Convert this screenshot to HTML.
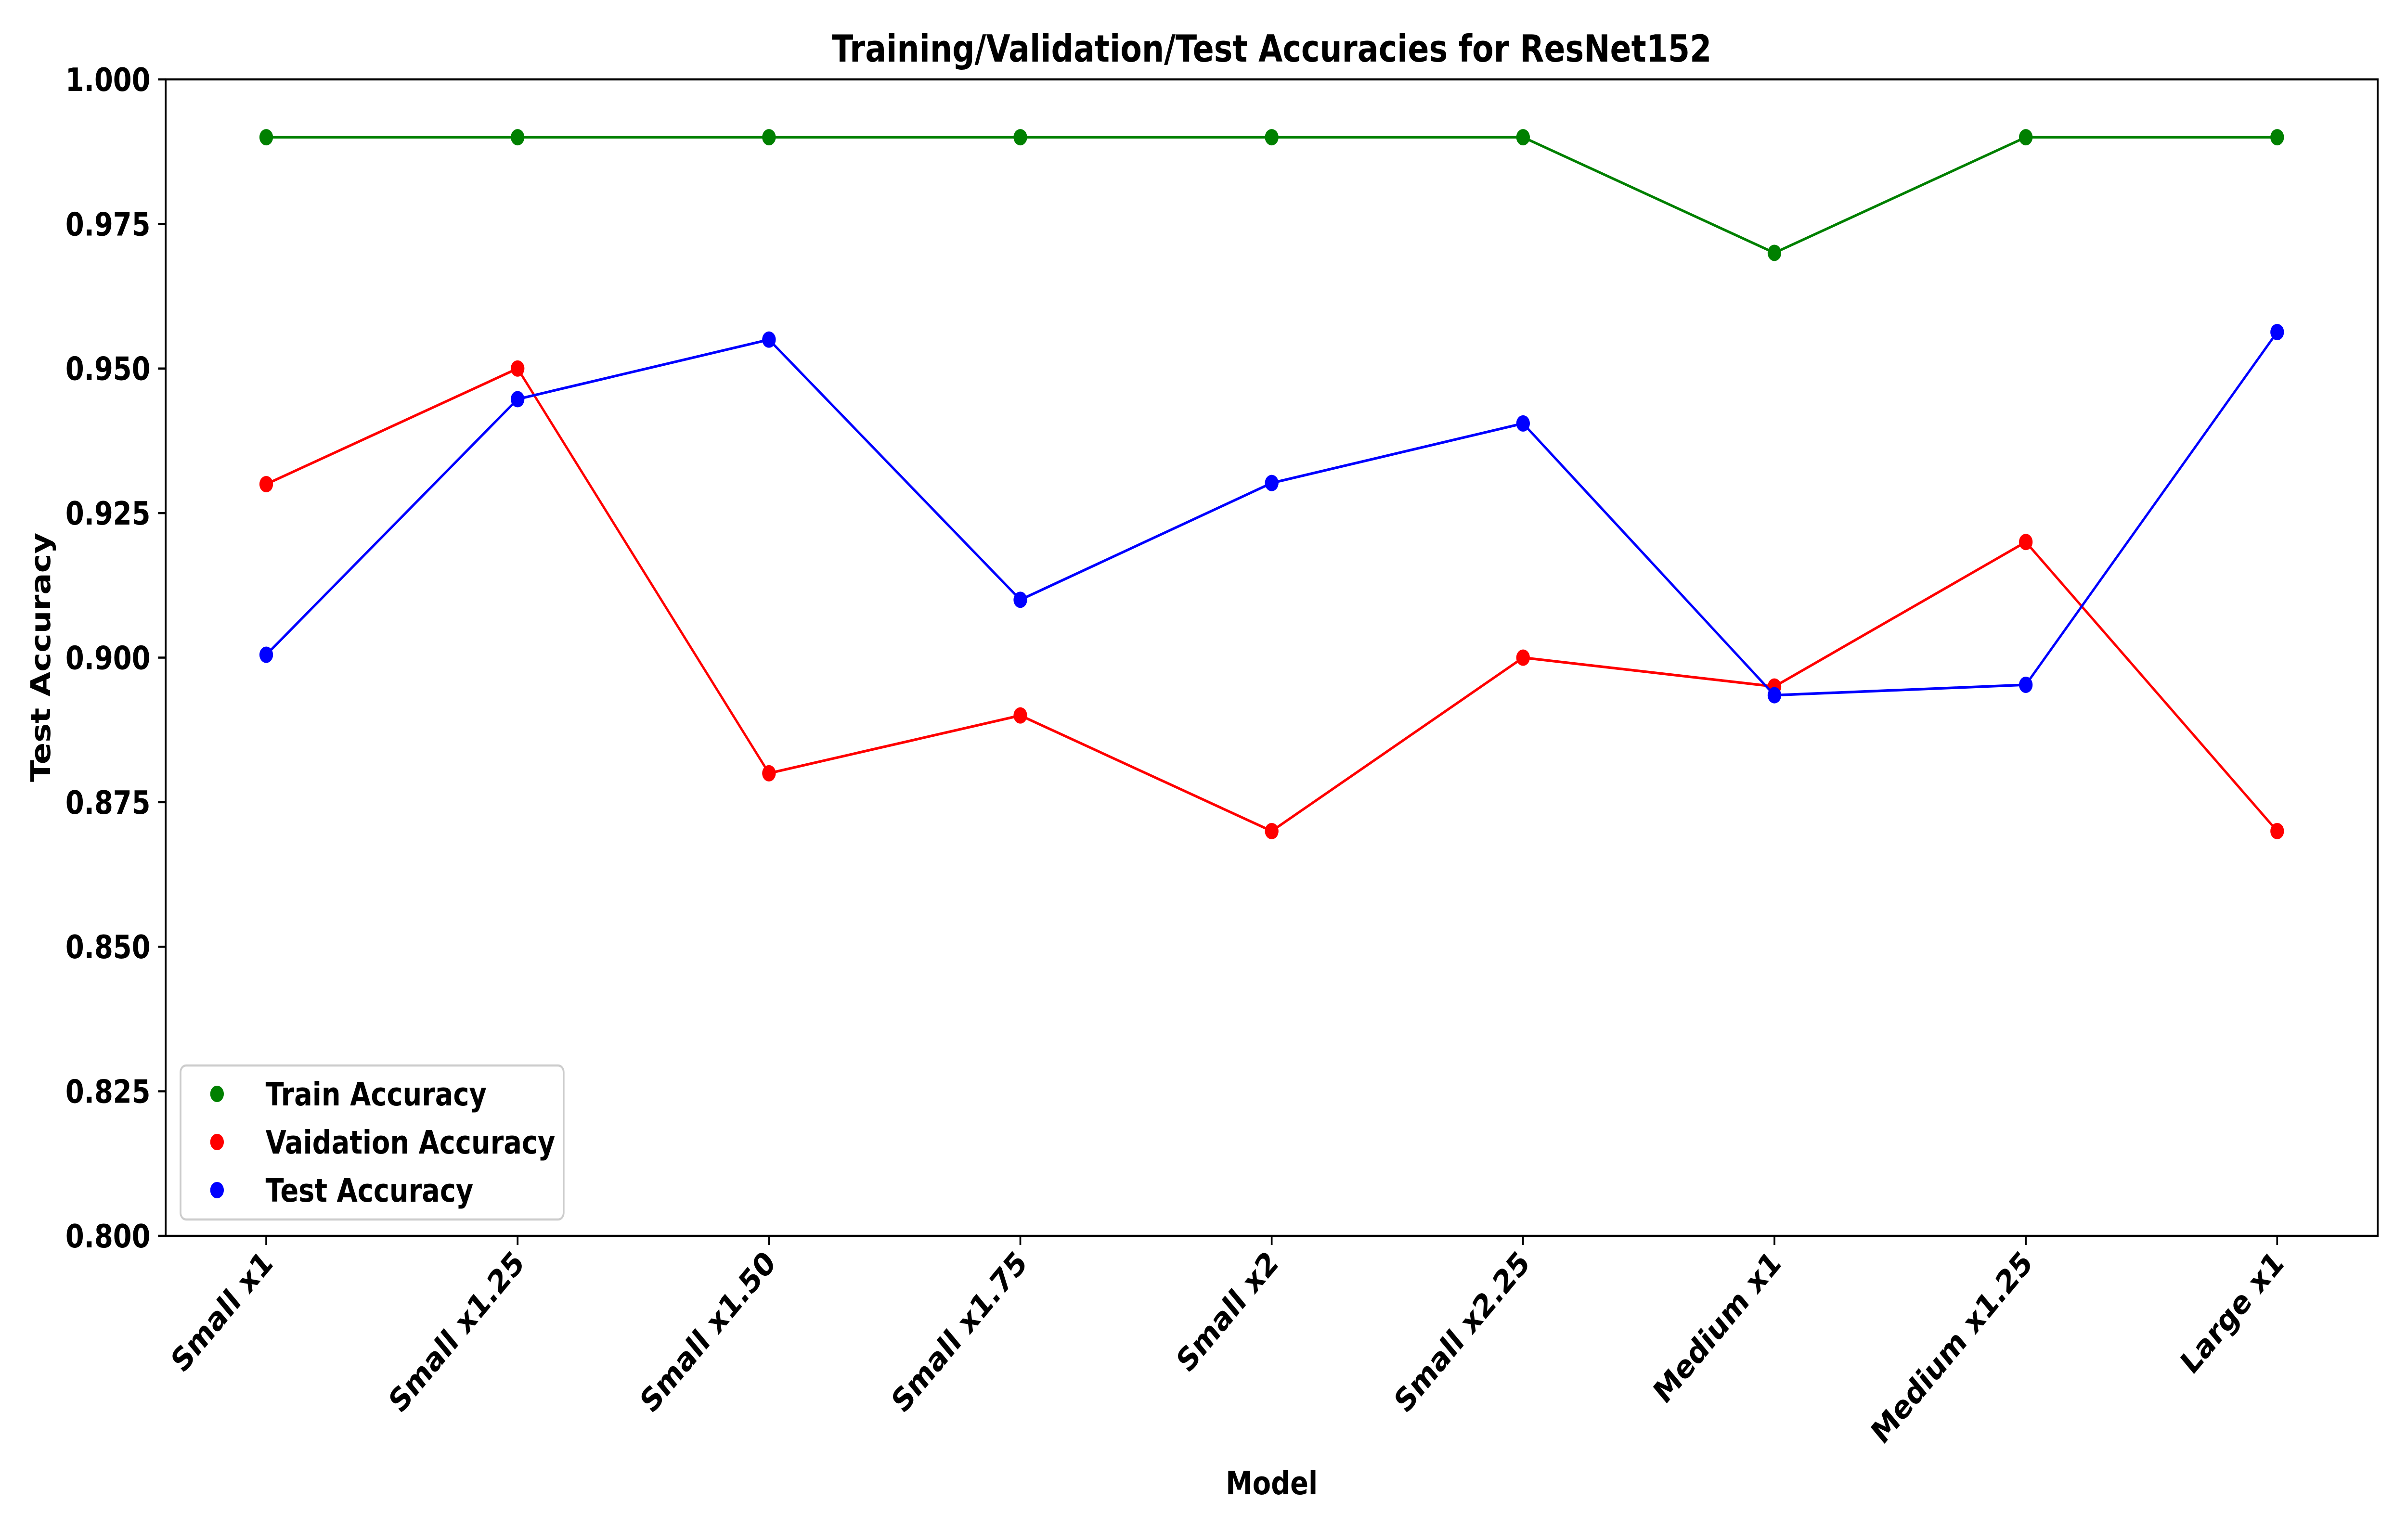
<!DOCTYPE html>
<html><head><meta charset="utf-8"><style>
html,body{margin:0;padding:0;background:#fff;width:100%;height:100%;overflow:hidden}
svg{display:block;width:100vw;height:100vh;font-family:"DejaVu Sans","Liberation Sans",sans-serif;font-weight:bold}
</style></head><body>
<svg id="chart" viewBox="0 0 6000 3200" preserveAspectRatio="none" xmlns="http://www.w3.org/2000/svg">
<rect width="6000" height="3200" fill="#fff"/>
<text x="3170" y="128" font-size="78" text-anchor="middle">Training/Validation/Test Accuracies for ResNet152</text>
<g id="grid"></g>
<g id="series"></g>
<rect x="413" y="165" width="5514" height="2403" fill="none" stroke="#000" stroke-width="4.4"/>
<text transform="translate(125,1366) rotate(-90)" font-size="67" text-anchor="middle">Test Accuracy</text>
<text x="3170" y="3105" font-size="67" text-anchor="middle">Model</text>
<g>
<rect x="450" y="2214" width="955" height="320" rx="14" fill="#fff" fill-opacity="0.8" stroke="#ccc" stroke-width="4.4"/>
<circle cx="541" cy="2273" r="17" fill="#008000"/>
<text x="662" y="2297" font-size="67">Train Accuracy</text>
<circle cx="541" cy="2373" r="17" fill="#ff0000"/>
<text x="662" y="2397" font-size="67">Vaidation Accuracy</text>
<circle cx="541" cy="2473" r="17" fill="#0000ff"/>
<text x="662" y="2497" font-size="67">Test Accuracy</text>
</g>
</svg>
<script>
const categories = ["Small x1","Small x1.25","Small x1.50","Small x1.75","Small x2","Small x2.25","Medium x1","Medium x1.25","Large x1"];
const trainAcc = [0.99,0.99,0.99,0.99,0.99,0.99,0.97,0.99,0.99];
const valAcc = [0.93,0.95,0.88,0.89,0.87,0.90,0.895,0.92,0.87];
const testAcc = [0.9005,0.9447,0.955,0.910,0.9302,0.9405,0.8935,0.8953,0.9563];
const yTicks = [0.800,0.825,0.850,0.875,0.900,0.925,0.950,0.975,1.000];
const yMin = 0.8, yMax = 1.0;

const NS = "http://www.w3.org/2000/svg";
const L = 413, R = 5927, T = 165, B = 2568;
const n = categories.length;
const step = (R - L) / ((n - 1) * 1.1);
function xs(i){ return L + step * (0.05 * (n - 1)) + step * i; }
function ys(v){ return B - (v - yMin) / (yMax - yMin) * (B - T); }
function mk(tag, attrs, parent){ const e = document.createElementNS(NS, tag); for (const k in attrs) e.setAttribute(k, attrs[k]); parent.appendChild(e); return e; }

const grid = document.getElementById('grid');
yTicks.forEach(v => {
  const y = ys(v);
  const t = mk('line', {x1: L - 19, x2: L, y1: y, y2: y, stroke: '#000', 'stroke-width': 4.4}, grid);
  
  
  const lb = mk('text', {x: L - 38, y: y + 24, 'font-size': 67, 'text-anchor': 'end'}, grid);
  lb.textContent = v.toFixed(3);
  
  
});
categories.forEach((c, i) => {
  const x = xs(i);
  const t = mk('line', {x1: x, x2: x, y1: B, y2: B + 19, stroke: '#000', 'stroke-width': 4.4}, grid);
  
  
  const lb = mk('text', {transform: `translate(${x + 20},${B + 60}) rotate(-45)`, 'font-size': 67, 'text-anchor': 'end'}, grid);
  lb.textContent = c;
  
  
});

const series = document.getElementById('series');
[[trainAcc, '#008000', 'train'], [valAcc, '#ff0000', 'validation'], [testAcc, '#0000ff', 'test']].forEach(([vals, col, nm]) => {
  const pts = vals.map((v, i) => xs(i) + ',' + ys(v)).join(' ');
  const pl = mk('polyline', {points: pts, fill: 'none', stroke: col, 'stroke-width': 5.5}, series);
  
  
  vals.forEach((v, i) => {
    const c = mk('circle', {cx: xs(i), cy: ys(v), r: 17, fill: col}, series);
    
    
  });
});
</script>
</body></html>
